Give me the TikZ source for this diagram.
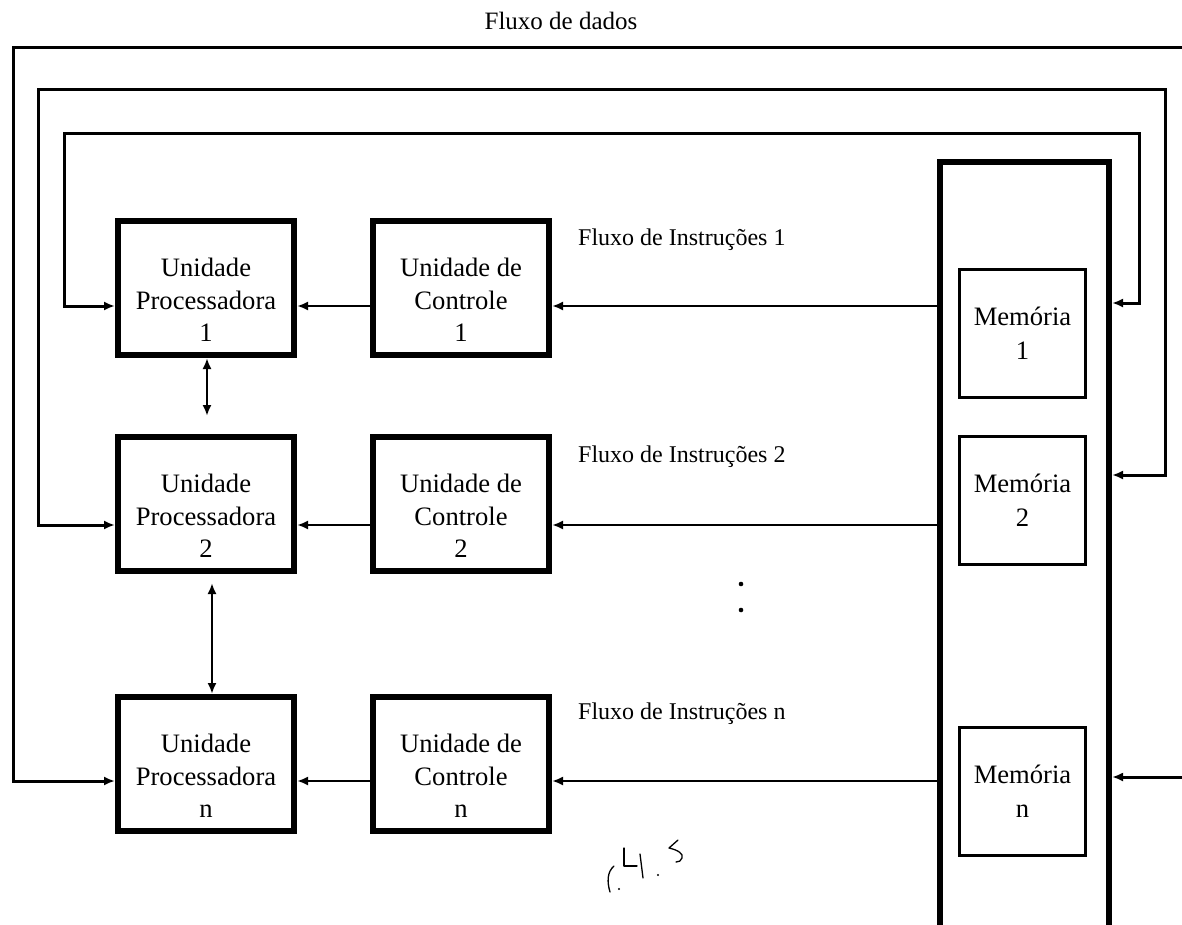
\documentclass[tikz,border=0pt]{standalone}
\usepackage{fontspec}
\setmainfont{Liberation Serif}
\usetikzlibrary{arrows.meta}
\begin{document}
\begin{tikzpicture}[x=1pt,y=-1pt,
  unit/.style={draw,line width=6pt,minimum width=176pt,minimum height=134pt,inner sep=0pt},
  boxtext/.style={align=center,font=\fontsize{26.6}{32.5}\selectfont,inner sep=0pt},
  membox/.style={draw,line width=3pt,minimum width=126pt,minimum height=128pt,inner sep=0pt,
    align=center,font=\fontsize{26.6}{34}\selectfont},
  column/.style={draw,line width=6pt,minimum width=169pt,minimum height=798pt,inner sep=0pt},
  flow/.style={anchor=west,font=\fontsize{24}{28}\selectfont,inner sep=0pt},
  head/.style={Latex[length=11pt,width=9pt]},
  link/.style={line width=2.2pt,-{Latex[length=11pt,width=9pt]}},
  bus/.style={line width=3pt,{Latex[length=11pt,width=9pt]}-{Latex[length=11pt,width=9pt]}},
  pair/.style={line width=2.5pt,{Latex[length=11pt,width=9pt]}-{Latex[length=11pt,width=9pt]}},
  scribble/.style={line width=1.3pt,line cap=round,line join=round}
]
\useasboundingbox (0,0) rectangle (1182,925);
\clip (0,0) rectangle (1182,925);

% processing units
\node[unit] (pu1) at (206,288) {};
\node[unit] (pu2) at (206,504) {};
\node[unit] (pun) at (206,764) {};
\node[boxtext] (pu1t) at ([yshift=-12pt]pu1.center) {Unidade\\Processadora\\1};
\node[boxtext] (pu2t) at ([yshift=-12pt]pu2.center) {Unidade\\Processadora\\2};
\node[boxtext] (punt) at ([yshift=-12pt]pun.center) {Unidade\\Processadora\\n};

% control units
\node[unit] (cu1) at (461,288) {};
\node[unit] (cu2) at (461,504) {};
\node[unit] (cun) at (461,764) {};
\node[boxtext] (cu1t) at ([yshift=-12pt]cu1.center) {Unidade de\\Controle\\1};
\node[boxtext] (cu2t) at ([yshift=-12pt]cu2.center) {Unidade de\\Controle\\2};
\node[boxtext] (cunt) at ([yshift=-12pt]cun.center) {Unidade de\\Controle\\n};

% memory column and modules
\node[column] (mem) at (1024.5,561) {};
\node[membox] (m1) at (1022.5,333.5) {Memória\\1};
\node[membox] (m2) at (1022.5,500.5) {Memória\\2};
\node[membox] (mn) at (1022.5,791) {Memória\\n};

% labels
\node[font=\fontsize{25}{30}\selectfont,inner sep=0pt] (dados) at (561,21) {Fluxo de dados};
\node[flow] (f1) at (578,240) {Fluxo de Instruções 1};
\node[flow] (f2) at (578,457) {Fluxo de Instruções 2};
\node[flow] (fn) at (578,714) {Fluxo de Instruções n};

% arrow levels
\coordinate (y1) at (0,306);
\coordinate (y2) at (0,525);
\coordinate (yn) at (0,781);
\coordinate (ym1) at (0,303);
\coordinate (ym2) at (0,475);
\coordinate (ymn) at (0,777);

% instruction streams
\draw[link] (mem.west |- y1) -- (cu1.east |- y1);
\draw[link] (mem.west |- y2) -- (cu2.east |- y2);
\draw[link] (mem.west |- yn) -- (cun.east |- yn);
\draw[link] (cu1.west |- y1) -- (pu1.east |- y1);
\draw[link] (cu2.west |- y2) -- (pu2.east |- y2);
\draw[link] (cun.west |- yn) -- (pun.east |- yn);

% links between processing units
\coordinate (a1) at (207,0);
\coordinate (a2) at (212,0);
\draw[pair,shorten >=18pt] (pu1.south -| a1) -- (pu2.north -| a1);
\draw[pair,shorten <=9pt] (pu2.south -| a2) -- (pun.north -| a2);

% data streams
\coordinate (c1l) at (64,134);
\coordinate (c1r) at (1139,134);
\coordinate (c2l) at (38,90);
\coordinate (c2r) at (1165,90);
\coordinate (cnl) at (13,48);
\coordinate (cnr) at (1195,48);
\draw[bus] (pu1.west |- y1) -| (c1l) -- (c1r) |- (mem.east |- ym1);
\draw[bus] (pu2.west |- y2) -| (c2l) -- (c2r) |- (mem.east |- ym2);
\draw[bus] (pun.west |- yn) -| (cnl) -- (cnr) |- (mem.east |- ymn);

% ellipsis
\fill (741,584) circle (2.3);
\fill (741,610) circle (2.3);

% handwritten note
\draw[scribble] (614,866) .. controls (607,872) and (607,882) .. (610,892);
\fill (619,889) circle (1.2);
\draw[scribble] (624,848) -- (624,866) -- (637,866);
\draw[scribble] (640,854) -- (643,878);
\fill (658,875) circle (1.2);
\draw[scribble] (678,840) -- (669,848) .. controls (678,850) and (684,854) .. (682,858) .. controls (681,861) and (679,862) .. (676,862);
\end{tikzpicture}
\end{document}
